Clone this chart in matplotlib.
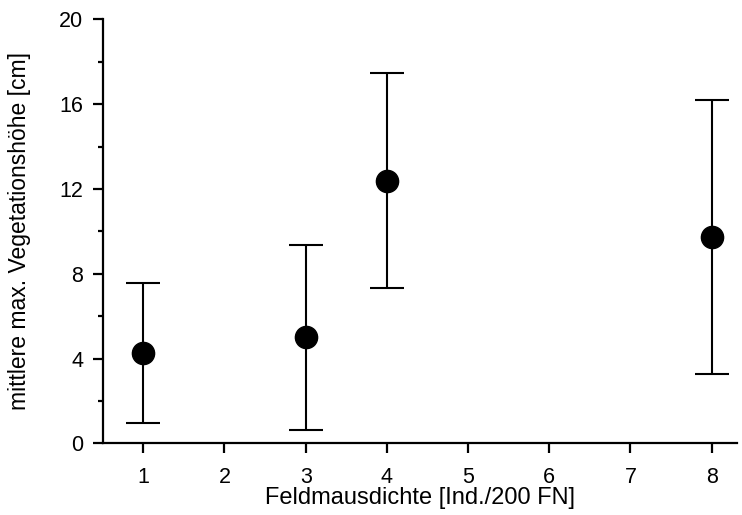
import matplotlib
matplotlib.use("Agg")
import matplotlib.pyplot as plt
from matplotlib.ticker import MultipleLocator

plt.rcParams['font.family'] = ['Liberation Sans', 'DejaVu Sans']

dichte = [1, 3, 4, 8]
hoehe = [4.26, 5.01, 12.37, 9.73]
oben = [7.57, 9.35, 17.47, 16.19]
unten = [0.96, 0.63, 7.33, 3.27]

err_lo = [h - u for h, u in zip(hoehe, unten)]
err_hi = [o - h for o, h in zip(oben, hoehe)]

fig = plt.figure(figsize=(7.42, 5.15), dpi=100)
ax = fig.add_axes([0.1384, 0.139, 0.8546, 0.8235])

ax.errorbar(dichte, hoehe, yerr=[err_lo, err_hi], fmt='o', color='black',
            markersize=16, elinewidth=1.5, capsize=12, capthick=1.5)

ax.set_xlim(0.5, 8.31)
ax.set_ylim(0, 20)
ax.set_xticks(range(1, 9))
ax.yaxis.set_major_locator(MultipleLocator(4))
ax.yaxis.set_minor_locator(MultipleLocator(2))

for s in ['top', 'right']:
    ax.spines[s].set_visible(False)
for s in ['left', 'bottom']:
    ax.spines[s].set_linewidth(1.6)

ax.tick_params(axis='both', which='major', length=7, width=1.6, labelsize=15.5)
ax.tick_params(axis='y', which='major', pad=7)
ax.tick_params(axis='x', which='major', pad=10)
ax.tick_params(axis='y', which='minor', length=3.6, width=1.6)

ax.set_xlabel('Feldmausdichte [Ind./200 FN]', fontsize=17, labelpad=-1)
ax.set_ylabel('mittlere max. Vegetationshöhe [cm]', fontsize=16.5, labelpad=20)

fig.savefig('out.png', dpi=100)
